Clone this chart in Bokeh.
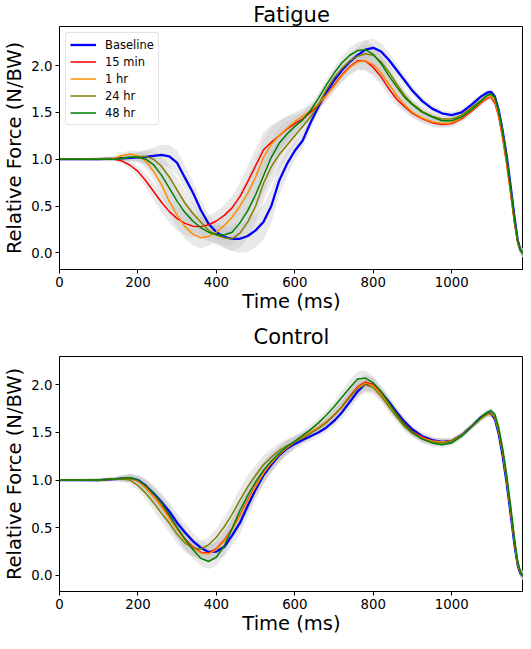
from bokeh.plotting import figure
from bokeh.layouts import column
from bokeh.models import Range1d, FixedTicker, PrintfTickFormatter, Legend, LegendItem
from bokeh.embed import file_html
from bokeh.resources import INLINE

TIME = [0, 50, 100, 140, 160, 180, 200, 220, 240, 260,
        280, 300, 320, 340, 360, 380, 400, 420, 440, 460,
        480, 500, 520, 540, 560, 580, 600, 620, 640, 660,
        680, 700, 720, 740, 760, 780, 800, 820, 840, 860,
        880, 900, 925, 950, 975, 1000, 1025, 1050, 1075, 1090,
        1100, 1110, 1120, 1130, 1140, 1150, 1160, 1168, 1175, 1183]

LABELS = ["Baseline", "15 min", "1 hr", "24 hr", "48 hr"]
COLORS = ["#0000ff", "#ff0000", "#ff8c00", "#808000", "#008000"]
WIDTHS = [2.3, 1.5, 1.5, 1.5, 1.5]

# ---- Fatigue group ----
FAT_BASELINE = [1.00, 1.00, 1.00, 1.005, 1.01, 1.015, 1.02, 1.025, 1.035, 1.045,
                1.03, 0.96, 0.80, 0.645, 0.46, 0.31, 0.22, 0.17, 0.15, 0.15,
                0.18, 0.24, 0.33, 0.50, 0.77, 0.95, 1.09, 1.20, 1.39, 1.56,
                1.71, 1.84, 1.95, 2.04, 2.11, 2.17, 2.19, 2.15, 2.06, 1.95,
                1.84, 1.73, 1.62, 1.54, 1.49, 1.47, 1.50, 1.58, 1.67, 1.71,
                1.72, 1.67, 1.52, 1.30, 1.04, 0.72, 0.38, 0.14, 0.03, -0.01]
FAT_15MIN = [1.00, 1.00, 1.00, 1.00, 0.98, 0.935, 0.87, 0.77, 0.655, 0.54,
             0.44, 0.365, 0.315, 0.285, 0.28, 0.30, 0.34, 0.40, 0.48, 0.60,
             0.76, 0.93, 1.10, 1.18, 1.25, 1.32, 1.38, 1.43, 1.50, 1.58,
             1.68, 1.79, 1.90, 1.99, 2.05, 2.05, 1.98, 1.88, 1.75, 1.64,
             1.56, 1.49, 1.43, 1.39, 1.37, 1.38, 1.43, 1.51, 1.60, 1.65,
             1.66, 1.60, 1.45, 1.22, 0.95, 0.64, 0.32, 0.12, 0.03, -0.01]
FAT_1HR = [1.00, 1.00, 1.005, 1.01, 1.04, 1.055, 1.035, 0.98, 0.87, 0.725,
           0.55, 0.40, 0.28, 0.20, 0.16, 0.175, 0.22, 0.29, 0.38, 0.50,
           0.64, 0.81, 1.02, 1.16, 1.25, 1.33, 1.40, 1.46, 1.52, 1.59,
           1.68, 1.78, 1.89, 1.98, 2.04, 2.05, 2.01, 1.92, 1.80, 1.68,
           1.58, 1.50, 1.44, 1.40, 1.38, 1.39, 1.44, 1.52, 1.61, 1.66,
           1.67, 1.62, 1.47, 1.25, 0.98, 0.66, 0.33, 0.12, 0.03, -0.01]
FAT_24HR = [1.00, 1.00, 1.00, 1.00, 1.01, 1.02, 1.03, 1.03, 1.00, 0.925,
            0.81, 0.67, 0.53, 0.42, 0.33, 0.24, 0.19, 0.16, 0.15, 0.21,
            0.33, 0.50, 0.74, 0.92, 1.05, 1.15, 1.25, 1.35, 1.45, 1.58,
            1.74, 1.87, 1.97, 2.05, 2.10, 2.125, 2.11, 2.04, 1.93, 1.80,
            1.68, 1.59, 1.51, 1.46, 1.43, 1.43, 1.47, 1.55, 1.63, 1.68,
            1.69, 1.65, 1.50, 1.28, 1.01, 0.69, 0.35, 0.13, 0.03, -0.01]
FAT_48HR = [1.00, 1.00, 1.00, 1.00, 1.01, 1.02, 1.02, 1.00, 0.94, 0.83,
            0.69, 0.55, 0.43, 0.34, 0.27, 0.22, 0.195, 0.19, 0.22, 0.32,
            0.45, 0.62, 0.82, 1.02, 1.17, 1.27, 1.35, 1.42, 1.52, 1.65,
            1.79, 1.92, 2.03, 2.11, 2.16, 2.17, 2.12, 2.02, 1.89, 1.77,
            1.66, 1.58, 1.50, 1.45, 1.41, 1.41, 1.45, 1.53, 1.62, 1.68,
            1.70, 1.66, 1.51, 1.29, 1.02, 0.70, 0.36, 0.13, 0.03, -0.01]
FAT_SD = [0.01, 0.01, 0.015, 0.02, 0.03, 0.04, 0.05, 0.07, 0.09, 0.11,
          0.12, 0.13, 0.13, 0.12, 0.11, 0.10, 0.10, 0.11, 0.13, 0.15,
          0.17, 0.18, 0.19, 0.18, 0.16, 0.13, 0.10, 0.08, 0.07, 0.06,
          0.06, 0.06, 0.07, 0.08, 0.09, 0.10, 0.10, 0.09, 0.08, 0.07,
          0.06, 0.05, 0.045, 0.04, 0.035, 0.035, 0.035, 0.03, 0.03, 0.03,
          0.03, 0.03, 0.04, 0.05, 0.06, 0.06, 0.06, 0.05, 0.045, 0.05]

# ---- Control group ----
CON_BASELINE = [1.00, 1.00, 1.00, 1.01, 1.015, 1.02, 1.00, 0.94, 0.86, 0.77,
                0.67, 0.55, 0.45, 0.36, 0.29, 0.245, 0.25, 0.30, 0.42, 0.55,
                0.73, 0.90, 1.05, 1.16, 1.26, 1.33, 1.38, 1.42, 1.46, 1.50,
                1.55, 1.62, 1.71, 1.82, 1.93, 2.01, 2.00, 1.92, 1.82, 1.71,
                1.61, 1.53, 1.46, 1.42, 1.40, 1.41, 1.47, 1.56, 1.66, 1.70,
                1.70, 1.64, 1.48, 1.25, 0.97, 0.65, 0.32, 0.11, 0.02, -0.01]
CON_15MIN = [1.00, 1.00, 1.00, 1.01, 1.015, 1.02, 0.99, 0.92, 0.83, 0.73,
             0.61, 0.49, 0.38, 0.30, 0.24, 0.235, 0.28, 0.37, 0.49, 0.63,
             0.79, 0.94, 1.07, 1.18, 1.27, 1.34, 1.40, 1.45, 1.50, 1.55,
             1.61, 1.68, 1.77, 1.88, 1.98, 2.03, 2.00, 1.91, 1.80, 1.69,
             1.59, 1.51, 1.45, 1.41, 1.40, 1.41, 1.47, 1.56, 1.65, 1.69,
             1.70, 1.66, 1.51, 1.29, 1.01, 0.69, 0.35, 0.12, 0.03, -0.01]
CON_1HR = [1.00, 1.00, 1.00, 1.01, 1.015, 1.02, 0.99, 0.92, 0.83, 0.72,
           0.60, 0.48, 0.37, 0.29, 0.235, 0.225, 0.27, 0.36, 0.48, 0.62,
           0.78, 0.93, 1.07, 1.18, 1.27, 1.34, 1.40, 1.45, 1.50, 1.55,
           1.61, 1.68, 1.76, 1.87, 1.97, 2.02, 1.99, 1.90, 1.79, 1.68,
           1.58, 1.50, 1.44, 1.41, 1.40, 1.41, 1.47, 1.56, 1.65, 1.69,
           1.70, 1.66, 1.51, 1.29, 1.01, 0.69, 0.35, 0.12, 0.03, -0.01]
CON_24HR = [1.00, 1.00, 1.00, 1.01, 1.01, 1.00, 0.94, 0.86, 0.76, 0.65,
            0.55, 0.43, 0.34, 0.285, 0.275, 0.32, 0.40, 0.51, 0.64, 0.79,
            0.93, 1.05, 1.16, 1.24, 1.31, 1.36, 1.40, 1.44, 1.49, 1.54,
            1.60, 1.68, 1.77, 1.87, 1.96, 2.00, 1.97, 1.88, 1.77, 1.66,
            1.56, 1.49, 1.43, 1.40, 1.39, 1.41, 1.47, 1.56, 1.65, 1.69,
            1.70, 1.66, 1.51, 1.29, 1.01, 0.69, 0.35, 0.12, 0.03, -0.01]
CON_48HR = [1.00, 1.00, 1.00, 1.01, 1.02, 1.025, 1.00, 0.94, 0.86, 0.76,
            0.635, 0.50, 0.38, 0.27, 0.18, 0.145, 0.19, 0.31, 0.49, 0.68,
            0.84, 0.98, 1.10, 1.20, 1.28, 1.35, 1.41, 1.47, 1.53, 1.60,
            1.68, 1.77, 1.87, 1.97, 2.06, 2.07, 2.02, 1.93, 1.81, 1.69,
            1.58, 1.50, 1.43, 1.39, 1.37, 1.39, 1.46, 1.56, 1.66, 1.71,
            1.73, 1.69, 1.55, 1.33, 1.06, 0.74, 0.39, 0.15, 0.04, -0.01]
CON_SD = [0.01, 0.01, 0.015, 0.02, 0.03, 0.04, 0.05, 0.07, 0.08, 0.09,
          0.10, 0.10, 0.10, 0.09, 0.08, 0.08, 0.09, 0.10, 0.11, 0.12,
          0.12, 0.11, 0.10, 0.09, 0.08, 0.07, 0.06, 0.05, 0.05, 0.05,
          0.05, 0.06, 0.07, 0.08, 0.08, 0.08, 0.07, 0.06, 0.06, 0.05,
          0.05, 0.04, 0.04, 0.035, 0.035, 0.03, 0.03, 0.03, 0.03, 0.03,
          0.03, 0.03, 0.04, 0.05, 0.06, 0.06, 0.06, 0.05, 0.045, 0.05]

X_TICKS = [0, 200, 400, 600, 800, 1000]
Y_TICKS = [0.0, 0.5, 1.0, 1.5, 2.0]
X_LIMITS = (0, 1183)
FAT_YLIM = (-0.178, 2.417)
CON_YLIM = (-0.170, 2.297)

FONT = "DejaVu Sans"


def make_panel(title, series, sd, ylim, frame_h, title_standoff, show_legend):
    p = figure(frame_width=464, frame_height=frame_h,
               x_range=Range1d(*X_LIMITS), y_range=Range1d(*ylim),
               output_backend="svg", toolbar_location=None,
               min_border_left=50, min_border_right=0,
               min_border_top=0, min_border_bottom=0)
    p.title.text = title
    p.title.align = "center"
    p.title.text_font = FONT
    p.title.text_font_size = "21px"
    p.title.text_font_style = "normal"
    p.title.text_color = "black"
    p.title.standoff = title_standoff
    p.title.offset = 0

    p.xgrid.visible = False
    p.ygrid.visible = False
    p.outline_line_color = "black"
    p.outline_line_width = 1
    p.outline_line_alpha = 1
    p.background_fill_color = "white"
    p.border_fill_color = "white"

    for ax in (p.xaxis[0], p.yaxis[0]):
        ax.axis_line_color = "black"
        ax.major_tick_line_color = "black"
        ax.major_tick_out = 4
        ax.major_tick_in = 0
        ax.minor_tick_out = 0
        ax.minor_tick_in = 0
        ax.major_label_text_font = FONT
        ax.major_label_text_font_size = "13.3px"
        ax.major_label_text_color = "black"
        ax.axis_label_text_font = FONT
        ax.axis_label_text_font_size = "19.5px"
        ax.axis_label_text_font_style = "normal"
        ax.axis_label_text_color = "black"
        ax.major_label_standoff = 3

    p.xaxis.ticker = FixedTicker(ticks=X_TICKS)
    p.yaxis.ticker = FixedTicker(ticks=Y_TICKS)
    p.yaxis.formatter = PrintfTickFormatter(format="%.1f")
    p.xaxis.axis_label = "Time (ms)"
    p.yaxis.axis_label = "Relative Force (N/BW)"
    p.xaxis.axis_label_standoff = 0
    p.yaxis.axis_label_standoff = 2

    for vals in series:
        lo = [m - s for m, s in zip(vals, sd)]
        hi = [m + s for m, s in zip(vals, sd)]
        p.varea(x=TIME, y1=lo, y2=hi, fill_color="#c4c4c4", fill_alpha=0.38)

    items = []
    for vals, lab, col, lw in zip(series, LABELS, COLORS, WIDTHS):
        r = p.line(TIME, vals, line_color=col, line_width=lw)
        items.append(LegendItem(label=lab, renderers=[r]))

    if show_legend:
        leg = Legend(items=items, location="top_left")
        leg.margin = 6
        leg.padding = 4
        leg.spacing = 2
        leg.glyph_width = 26
        leg.glyph_height = 15
        leg.label_height = 15
        leg.label_standoff = 9
        leg.label_text_font = FONT
        leg.label_text_font_size = "11.5px"
        leg.label_text_color = "black"
        leg.border_line_color = "#cccccc"
        leg.border_line_width = 1
        leg.background_fill_color = "white"
        leg.background_fill_alpha = 0.8
        if "border_radius" in leg.properties():
            leg.border_radius = 3
        p.add_layout(leg)
    return p


fatigue = make_panel("Fatigue",
                     [FAT_BASELINE, FAT_15MIN, FAT_1HR, FAT_24HR, FAT_48HR],
                     FAT_SD, FAT_YLIM, 243, 0, True)
control = make_panel("Control",
                     [CON_BASELINE, CON_15MIN, CON_1HR, CON_24HR, CON_48HR],
                     CON_SD, CON_YLIM, 235, 15, False)

layout = column(fatigue, control, spacing=0)
open("out.html", "w").write(file_html(layout, INLINE))
